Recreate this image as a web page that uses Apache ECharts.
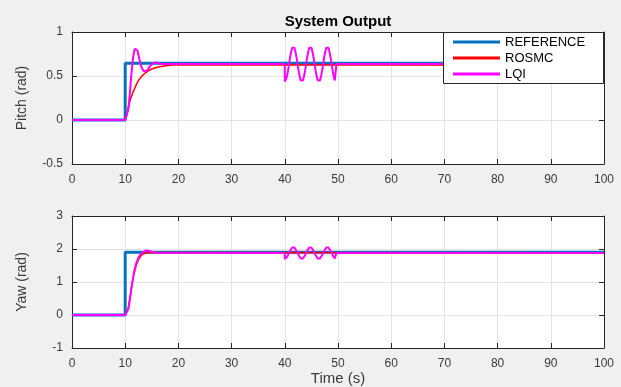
<!DOCTYPE html>
<html>
<head>
<meta charset="utf-8">
<script src="https://cdn.jsdelivr.net/npm/echarts@6/dist/echarts.min.js"></script>
<style>
html,body{margin:0;padding:0;background:#f0f0f0;}
#chart{width:621px;height:387px;}
</style>
</head>
<body>
<div id="chart"></div>
<script>
// ---- data ----
var seriesNames = ['REFERENCE', 'ROSMC', 'LQI'];
var xTicks = [0, 10, 20, 30, 40, 50, 60, 70, 80, 90, 100];

var pitchRef = [[0,0],[10,0],[10,0.645],[100,0.645]];
var pitchRosmc = [[0,0],[10,0],[10.3,0.06],[10.6,0.15],[11,0.24],[11.5,0.32],[12,0.39],[12.5,0.45],[13,0.49],[13.5,0.52],[14,0.545],[14.5,0.565],[15,0.58],[16,0.6],[17,0.612],[18,0.62],[19,0.625],[20,0.627],[100,0.622]];
var pitchLqi = [[0,0],[10,0],[10.3,0.02],[10.6,0.12],[10.9,0.32],[11.2,0.55],[11.5,0.72],[11.8,0.81],[12.0,0.82],[12.3,0.79],[12.6,0.71],[12.9,0.63],[13.2,0.58],[13.5,0.555],[13.8,0.55],[14.1,0.56],[14.4,0.59],[14.8,0.62],[15.2,0.645],[15.6,0.655],[16.0,0.65],[16.5,0.64],[17.5,0.635],
[40,0.635],[40,0.435],[40.2,0.45],[40.4,0.494],[40.6,0.558],[40.8,0.635],[41,0.712],[41.2,0.776],[41.4,0.82],[41.6,0.835],[41.8,0.82],[42,0.776],[42.2,0.712],[42.4,0.635],[42.6,0.558],[42.8,0.494],[43,0.45],[43.2,0.435],[43.4,0.45],[43.6,0.494],[43.8,0.558],[44,0.635],[44.2,0.712],[44.4,0.776],[44.6,0.82],[44.8,0.835],[45,0.82],[45.2,0.776],[45.4,0.712],[45.6,0.635],[45.8,0.558],[46,0.494],[46.2,0.45],[46.4,0.435],[46.6,0.45],[46.8,0.494],[47,0.558],[47.2,0.635],[47.4,0.712],[47.6,0.776],[47.8,0.82],[48,0.835],[48.2,0.82],[48.4,0.776],[48.6,0.712],[48.8,0.635],[49,0.558],[49.2,0.494],[49.4,0.45],[49.6,0.435],[49.7,0.44],[49.7,0.635],[100,0.635]];

var yawRef = [[0,0],[10,0],[10,1.9],[100,1.9]];
var yawRosmc = [[0,0],[10,0],[10.3,0.05],[10.6,0.22],[10.9,0.52],[11.2,0.84],[11.5,1.12],[11.8,1.35],[12.1,1.52],[12.5,1.68],[12.9,1.78],[13.3,1.84],[13.7,1.87],[14.2,1.89],[15,1.895],[100,1.89]];
var yawLqi = [[0,0],[10,0],[10.3,0.03],[10.6,0.18],[10.9,0.5],[11.2,0.85],[11.5,1.15],[11.8,1.4],[12.1,1.58],[12.5,1.74],[12.9,1.84],[13.3,1.9],[13.7,1.94],[14.1,1.955],[14.5,1.94],[15,1.915],[16,1.89],
[40,1.88],[40,1.70],[40.2,1.714],[40.4,1.753],[40.6,1.811],[40.8,1.88],[41,1.949],[41.2,2.007],[41.4,2.046],[41.6,2.06],[41.8,2.046],[42,2.007],[42.2,1.949],[42.4,1.88],[42.6,1.811],[42.8,1.753],[43,1.714],[43.2,1.70],[43.4,1.714],[43.6,1.753],[43.8,1.811],[44,1.88],[44.2,1.949],[44.4,2.007],[44.6,2.046],[44.8,2.06],[45,2.046],[45.2,2.007],[45.4,1.949],[45.6,1.88],[45.8,1.811],[46,1.753],[46.2,1.714],[46.4,1.70],[46.6,1.714],[46.8,1.753],[47,1.811],[47.2,1.88],[47.4,1.949],[47.6,2.007],[47.8,2.046],[48,2.06],[48.2,2.046],[48.4,2.007],[48.6,1.949],[48.8,1.88],[49,1.811],[49.2,1.753],[49.4,1.714],[49.6,1.70],[49.7,1.71],[49.7,1.88],[100,1.88]];

var pitchTicks = [-0.5, 0, 0.5, 1];
var yawTicks = [-1, 0, 1, 2, 3];

// ---- chart ----
var FONT = 'Liberation Sans, Arial, sans-serif';
var AX = '#262626';
var LBL = '#3a3a3a';
var GRIDC = '#e3e3e3';
var colors = ['#0072BD', '#FF0000', '#FF00FF'];
var widths = [3, 1.5, 2];

function xAx(gi, pos, main, name) {
  return {
    type: 'value', gridIndex: gi, position: pos,
    min: xTicks[0], max: xTicks[xTicks.length - 1], interval: xTicks[1] - xTicks[0],
    axisLine: {show: true, onZero: false, lineStyle: {color: AX, width: 1}},
    axisTick: {show: true, inside: true, length: 5, lineStyle: {color: AX}},
    axisLabel: {show: main, fontSize: 12, color: LBL, fontFamily: FONT, margin: 10},
    splitLine: {show: main, lineStyle: {color: GRIDC, width: 1}},
    name: name || '', nameLocation: 'middle', nameGap: 22,
    nameTextStyle: {fontSize: 15, color: LBL, fontFamily: FONT}
  };
}
function yAx(gi, pos, main, ticks, name) {
  return {
    type: 'value', gridIndex: gi, position: pos,
    min: ticks[0], max: ticks[ticks.length - 1], interval: ticks[1] - ticks[0],
    axisLine: {show: true, onZero: false, lineStyle: {color: AX, width: 1}},
    axisTick: {show: true, inside: true, length: 5, lineStyle: {color: AX}},
    axisLabel: {show: main, fontSize: 12, color: LBL, fontFamily: FONT, margin: 9},
    splitLine: {show: main, lineStyle: {color: GRIDC, width: 1}},
    name: name || '', nameLocation: 'middle', nameGap: 43, nameRotate: 90,
    nameTextStyle: {fontSize: 14, color: LBL, fontFamily: FONT}
  };
}
function line(name, idx, data, ax) {
  return {
    name: name, type: 'line', data: data, xAxisIndex: ax, yAxisIndex: ax,
    symbol: 'none', showSymbol: false, animation: false, clip: true,
    lineStyle: {color: colors[idx], width: widths[idx]},
    itemStyle: {color: colors[idx]},
    z: 2 + idx
  };
}

var chart = echarts.init(document.getElementById('chart'), null, {renderer: 'canvas'});
chart.setOption({
  backgroundColor: '#f0f0f0',
  animation: false,
  title: {
    text: 'System Output', left: 338, top: 14, textAlign: 'center', padding: 0,
    textStyle: {fontSize: 15, fontWeight: 'bold', color: '#000', fontFamily: FONT}
  },
  grid: [
    {left: 72, right: 17, top: 32, height: 132, show: true, backgroundColor: '#fff', borderWidth: 0},
    {left: 72, right: 17, top: 216, height: 132, show: true, backgroundColor: '#fff', borderWidth: 0}
  ],
  xAxis: [
    xAx(0, 'bottom', true), xAx(1, 'bottom', true, 'Time (s)'),
    xAx(0, 'top', false), xAx(1, 'top', false)
  ],
  yAxis: [
    yAx(0, 'left', true, pitchTicks, 'Pitch (rad)'), yAx(1, 'left', true, yawTicks, 'Yaw (rad)'),
    yAx(0, 'right', false, pitchTicks), yAx(1, 'right', false, yawTicks)
  ],
  legend: {
    data: seriesNames.map(function (n) { return {name: n, icon: 'rect'}; }),
    orient: 'vertical', left: 453, top: 35.5, z: 11,
    itemWidth: 47, itemHeight: 3, itemGap: 3, padding: 0,
    textStyle: {fontSize: 13, color: '#000', fontFamily: FONT, lineHeight: 13}
  },
  graphic: [{
    type: 'rect', z: 10, silent: true,
    shape: {x: 443.5, y: 32.5, width: 160, height: 51},
    style: {fill: '#fff', stroke: AX, lineWidth: 1}
  }],
  series: [
    line('REFERENCE', 0, pitchRef, 0),
    line('ROSMC', 1, pitchRosmc, 0),
    line('LQI', 2, pitchLqi, 0),
    line('REFERENCE', 0, yawRef, 1),
    line('ROSMC', 1, yawRosmc, 1),
    line('LQI', 2, yawLqi, 1)
  ]
});
</script>
</body>
</html>
